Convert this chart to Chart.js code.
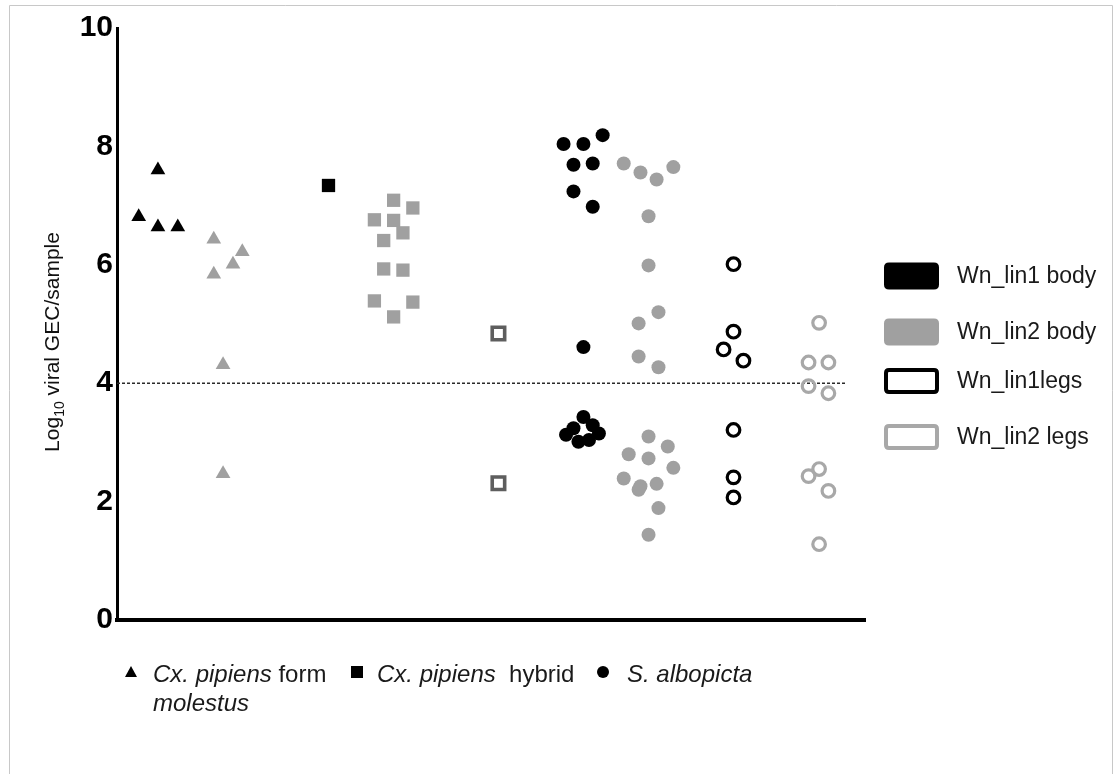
<!DOCTYPE html>
<html><head><meta charset="utf-8">
<script src="https://cdn.jsdelivr.net/npm/chart.js@4.4.0/dist/chart.umd.min.js"></script>
<style>html,body{margin:0;padding:0;background:#fff;}#wrap{width:1120px;height:774px;position:relative;}</style>
</head><body><div id="wrap"><canvas id="c" width="1120" height="774"></canvas></div>
<script>
// ---- axis / reference values ----
const yMin = 0, yMax = 10, yStep = 2;
const threshold = 4;
const thresholdEndX = 11.76;
const xMax = 12.06;

// ---- legend labels ----
const seriesNames = ['Wn_lin1 body', 'Wn_lin2 body', 'Wn_lin1legs', 'Wn_lin2 legs'];
const yTitleParts = ['Log', '10', ' viral GEC/sample'];

// ---- Cx. pipiens form molestus (triangles) ----
const molLin1BodyX = [0.35, 0.66, 0.66, 0.98];
const molLin1BodyY = [6.81, 7.60, 6.64, 6.64];
const molLin2BodyX = [1.56, 2.02, 1.87, 1.56, 1.71, 1.71];
const molLin2BodyY = [6.43, 6.22, 6.01, 5.84, 4.31, 2.47];

// ---- Cx. pipiens hybrid (squares) ----
const hybLin1BodyX = [3.41];
const hybLin1BodyY = [7.34];
const hybLin2BodyX = [4.46, 4.77, 4.15, 4.46, 4.61, 4.30, 4.30, 4.61, 4.15, 4.77, 4.46];
const hybLin2BodyY = [7.09, 6.96, 6.76, 6.75, 6.54, 6.41, 5.93, 5.91, 5.39, 5.37, 5.12];
const hybLegsX = [6.15, 6.15];
const hybLegsY = [4.84, 2.31];

// ---- S. albopicta (circles) ----
const albLin1BodyX = [7.83, 7.20, 7.52, 7.36, 7.67, 7.36, 7.67, 7.52, 7.52, 7.36, 7.67, 7.24, 7.77, 7.44, 7.61];
const albLin1BodyY = [8.19, 8.04, 8.04, 7.69, 7.71, 7.24, 6.98, 4.61, 3.43, 3.24, 3.29, 3.13, 3.15, 3.01, 3.04];
const albLin2BodyX = [8.17, 8.44, 8.70, 8.97, 8.57, 8.57, 8.73, 8.41, 8.41, 8.73, 8.57, 8.88, 8.25, 8.57, 8.97, 8.17, 8.44, 8.41, 8.70, 8.73, 8.57];
const albLin2BodyY = [7.71, 7.56, 7.44, 7.65, 6.82, 5.99, 5.20, 5.01, 4.45, 4.27, 3.10, 2.93, 2.80, 2.73, 2.57, 2.39, 2.26, 2.20, 2.30, 1.89, 1.44];
const albLin1LegsX = [9.94, 9.94, 9.78, 10.10, 9.94, 9.94, 9.94];
const albLin1LegsY = [6.01, 4.87, 4.57, 4.38, 3.21, 2.41, 2.07];
const albLin2LegsX = [11.32, 11.15, 11.47, 11.15, 11.47, 11.32, 11.15, 11.47, 11.32];
const albLin2LegsY = [5.02, 4.35, 4.35, 3.95, 3.83, 2.55, 2.43, 2.18, 1.28];

// ---- colours ----
const BLACK = '#000000', GRAY = '#a0a0a0', GRAY_OPEN = '#a8a8a8', DARK_OPEN = '#5e5e5e';

function pts(xs, ys) { return xs.map((x, i) => ({ x: x, y: ys[i] })); }

function filled(label, xs, ys, style, color, r) {
  return { label, data: pts(xs, ys), pointStyle: style, pointRadius: r, pointHoverRadius: r,
    backgroundColor: color, borderColor: color, borderWidth: 0, showLine: false, order: 0, clip: false };
}
function open(label, xs, ys, style, color, r, bw) {
  return { label, data: pts(xs, ys), pointStyle: style, pointRadius: r, pointHoverRadius: r,
    backgroundColor: 'rgba(0,0,0,0)', borderColor: color, borderWidth: bw, showLine: false, order: 0, clip: false };
}

const datasets = [
  { type: 'line', label: 'threshold', data: [{ x: 0, y: threshold }, { x: thresholdEndX, y: threshold }],
    borderColor: '#2a2a2a', borderWidth: 1.6, borderDash: [3, 2], pointRadius: 0, order: 10, fill: false },
  filled(seriesNames[0], molLin1BodyX, molLin1BodyY, 'triangle', BLACK, 8.5),
  filled(seriesNames[1], molLin2BodyX, molLin2BodyY, 'triangle', GRAY, 8.5),
  filled(seriesNames[0], hybLin1BodyX, hybLin1BodyY, 'rect', BLACK, 9.4),
  filled(seriesNames[1], hybLin2BodyX, hybLin2BodyY, 'rect', GRAY, 9.4),
  open(seriesNames[2], hybLegsX, hybLegsY, 'rect', DARK_OPEN, 8.8, 3.6),
  filled(seriesNames[0], albLin1BodyX, albLin1BodyY, 'circle', BLACK, 7),
  filled(seriesNames[1], albLin2BodyX, albLin2BodyY, 'circle', GRAY, 7),
  open(seriesNames[2], albLin1LegsX, albLin1LegsY, 'circle', BLACK, 6.3, 3.2),
  open(seriesNames[3], albLin2LegsX, albLin2LegsY, 'circle', GRAY_OPEN, 6.3, 3.2)
];

const FONT = "'Liberation Sans', Arial, Helvetica, sans-serif";

function roundRect(ctx, x, y, w, h, r) {
  ctx.beginPath();
  ctx.moveTo(x + r, y);
  ctx.lineTo(x + w - r, y); ctx.quadraticCurveTo(x + w, y, x + w, y + r);
  ctx.lineTo(x + w, y + h - r); ctx.quadraticCurveTo(x + w, y + h, x + w - r, y + h);
  ctx.lineTo(x + r, y + h); ctx.quadraticCurveTo(x, y + h, x, y + h - r);
  ctx.lineTo(x, y + r); ctx.quadraticCurveTo(x, y, x + r, y);
  ctx.closePath();
}

const decor = {
  id: 'decor',
  beforeDraw(chart) {
    const ctx = chart.ctx;
    ctx.save();
    ctx.fillStyle = '#fff';
    ctx.fillRect(0, 0, chart.width, chart.height);
    ctx.strokeStyle = '#c8c8c8';
    ctx.lineWidth = 1;
    ctx.beginPath();
    ctx.moveTo(9.5, 800); ctx.lineTo(9.5, 5.5); ctx.lineTo(1112.5, 5.5); ctx.lineTo(1112.5, 800);
    ctx.stroke();
    ctx.restore();
  },
  afterDraw(chart) {
    const ctx = chart.ctx;
    ctx.save();
    // ---- y axis title with subscript ----
    ctx.translate(52, 342);
    ctx.rotate(-Math.PI / 2);
    ctx.fillStyle = '#111';
    ctx.textBaseline = 'alphabetic';
    const bigF = '21px ' + FONT, smallF = '14px ' + FONT;
    ctx.font = bigF; const w1 = ctx.measureText(yTitleParts[0]).width;
    ctx.font = smallF; const w2 = ctx.measureText(yTitleParts[1]).width;
    ctx.font = bigF; const w3 = ctx.measureText(yTitleParts[2]).width;
    let sx = -(w1 + w2 + w3) / 2;
    const base = 7;
    ctx.font = bigF; ctx.fillText(yTitleParts[0], sx, base); sx += w1;
    ctx.font = smallF; ctx.fillText(yTitleParts[1], sx, base + 5); sx += w2;
    ctx.font = bigF; ctx.fillText(yTitleParts[2], sx, base);
    ctx.restore();

    // ---- right legend ----
    ctx.save();
    const rows = [276, 332, 381, 437];
    const bx = 884, bw = 55;
    ctx.fillStyle = BLACK; roundRect(ctx, bx, rows[0] - 13.5, bw, 27, 5); ctx.fill();
    ctx.fillStyle = GRAY; roundRect(ctx, bx, rows[1] - 13.5, bw, 27, 5); ctx.fill();
    ctx.lineWidth = 4;
    ctx.strokeStyle = BLACK; roundRect(ctx, bx + 2, rows[2] - 11, bw - 4, 22, 3); ctx.stroke();
    ctx.strokeStyle = GRAY_OPEN; roundRect(ctx, bx + 2, rows[3] - 11, bw - 4, 22, 3); ctx.stroke();
    ctx.fillStyle = '#1a1a1a';
    ctx.font = '23px ' + FONT;
    ctx.textBaseline = 'middle';
    seriesNames.forEach((n, i) => ctx.fillText(n, 957, rows[i] + 1));
    ctx.restore();

    // ---- bottom species legend ----
    ctx.save();
    ctx.fillStyle = '#000';
    const ly = 673;
    ctx.beginPath(); ctx.moveTo(131, ly - 7); ctx.lineTo(137, ly + 4); ctx.lineTo(125, ly + 4); ctx.closePath(); ctx.fill();
    ctx.fillRect(351, ly - 7, 12, 12);
    ctx.beginPath(); ctx.arc(603, ly - 1, 6, 0, Math.PI * 2); ctx.fill();
    ctx.fillStyle = '#1a1a1a';
    ctx.textBaseline = 'middle';
    const it = 'italic 24px ' + FONT, nf = '24px ' + FONT;
    ctx.font = it; ctx.fillText('Cx. pipiens', 153, ly + 2);
    let w = ctx.measureText('Cx. pipiens').width;
    ctx.font = nf; ctx.fillText(' form', 153 + w, ly + 2);
    ctx.font = it; ctx.fillText('molestus', 153, ly + 31);
    ctx.font = it; ctx.fillText('Cx. pipiens', 377, ly + 2);
    w = ctx.measureText('Cx. pipiens').width;
    ctx.font = nf; ctx.fillText('  hybrid', 377 + w, ly + 2);
    ctx.font = it; ctx.fillText('S. albopicta', 627, ly + 2);
    ctx.restore();
  }
};

new Chart(document.getElementById('c'), {
  type: 'scatter',
  data: { datasets },
  options: {
    responsive: false,
    animation: false,
    devicePixelRatio: 1,
    layout: { padding: { top: 28, right: 255, left: 0, bottom: 0 } },
    plugins: { legend: { display: false }, tooltip: { enabled: false } },
    scales: {
      x: {
        type: 'linear', min: 0, max: xMax,
        grid: { display: false, drawTicks: false },
        border: { display: true, color: '#000', width: 4 },
        ticks: { display: false },
        afterFit(s) { s.height = 154; }
      },
      y: {
        type: 'linear', min: yMin, max: yMax,
        grid: { display: false, drawTicks: false },
        border: { display: true, color: '#000', width: 3 },
        ticks: { stepSize: yStep, padding: 4, color: '#000',
          font: { family: FONT, size: 30, weight: 'bold' } },
        afterFit(s) { s.width = 117; }
      }
    }
  },
  plugins: [decor]
});
</script>
</body></html>
